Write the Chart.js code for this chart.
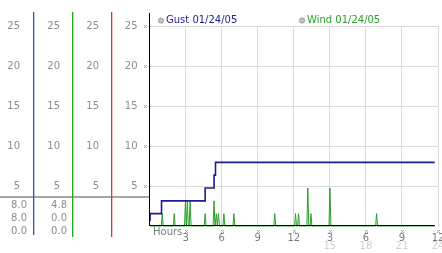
<!DOCTYPE html>
<html><head><meta charset="utf-8">
<script src="https://cdn.jsdelivr.net/npm/chart.js@4"></script>
<style>html,body{margin:0;padding:0;background:#fff}canvas{display:block}</style>
</head><body>
<canvas id="c" width="442" height="253"></canvas>
<script>
// ---- data ----
const yTickValues = [5, 10, 15, 20, 25];
const xTickValues = [3, 6, 9, 12, 15, 18, 21, 24];
const xTickLabels = ['3', '6', '9', '12', '3', '6', '9', '12'];
const x2TickValues = [15, 18, 21, 24];
const x2TickLabels = ['15', '18', '21', '24'];
const seriesNames = ['Gust 01/24/05', 'Wind 01/24/05'];
const xAxisName = 'Hours';

const gustHours  = [0.04, 0.05, 1.0, 4.63, 5.37, 5.49, 23.73];
const gustValues = [0.8,  1.6,  3.2, 4.8,  6.4,  8.0,  8.0];

const windHours = [0.05,
  0.98, 1.06, 1.14,
  1.98, 2.06, 2.14,
  2.91, 2.99, 3.07,
  3.08, 3.15, 3.23,
  3.30, 3.38, 3.46,
  4.55, 4.63, 4.71,
  5.29, 5.37, 5.45,
  5.49, 5.56, 5.64,
  5.67, 5.74, 5.82,
  6.11, 6.19, 6.27,
  6.94, 7.02, 7.10,
  10.34, 10.42, 10.50,
  12.07, 12.15, 12.23,
  12.32, 12.40, 12.48,
  13.09, 13.17, 13.25,
  13.35, 13.43, 13.51,
  14.93, 15.01, 15.09,
  18.81, 18.89, 18.97,
  23.73];
const windValues = [0,
  0, 1.6, 0,
  0, 1.6, 0,
  0, 3.2, 0,
  0, 3.2, 0,
  0, 3.2, 0,
  0, 1.6, 0,
  0, 3.2, 0,
  0, 1.6, 0,
  0, 1.6, 0,
  0, 1.6, 0,
  0, 1.6, 0,
  0, 1.6, 0,
  0, 1.6, 0,
  0, 1.6, 0,
  0, 4.8, 0,
  0, 1.6, 0,
  0, 4.8, 0,
  0, 1.6, 0,
  0];

const gustStats = ['8.0', '8.0', '0.0'];
const windStats = ['4.8', '0.0', '0.0'];

// ---- styles ----
const FONT = '10px "DejaVu Sans"';
const GUST = '#1c1c8c';
const WIND = '#2a9e2a';

function mark(ctx, cx, cy) {
  ctx.fillStyle = '#a4a4a4';
  const px = Math.round(cx), py = Math.round(cy);
  [[-1,-1],[1,-1],[0,0],[-1,1],[1,1]].forEach(([dx, dy]) => ctx.fillRect(px + dx, py + dy, 1, 1));
}

const decor = {
  id: 'decor',
  afterDraw(chart) {
    const ctx = chart.ctx, ys = chart.scales.y, xs = chart.scales.x, ca = chart.chartArea;
    ctx.save();
    ctx.font = FONT;
    // separator in left panel
    ctx.fillStyle = '#a6a6a6';
    ctx.fillRect(0, 196, 149, 2);
    // left panel tick columns
    ctx.fillStyle = '#8c8c8c';
    ctx.textAlign = 'right';
    ctx.textBaseline = 'middle';
    [20, 60, 99].forEach(cx => yTickValues.forEach(v => ctx.fillText(String(v), cx, ys.getPixelForValue(v))));
    // colored column lines
    [[33, '#2d55d8', 235], [72, '#22a622', 237], [111, '#d83434', 237]].forEach(([lx, c, yb]) => {
      ctx.fillStyle = c;
      ctx.fillRect(lx, 12, 1.3, yb - 12);
    });
    // stats
    ctx.fillStyle = '#8c8c8c';
    const rows = [205, 218.3, 231.7];
    gustStats.forEach((s, i) => ctx.fillText(s, 27, rows[i]));
    windStats.forEach((s, i) => ctx.fillText(s, 67, rows[i]));
    // main axes lines
    ctx.strokeStyle = '#000'; ctx.lineWidth = 1;
    ctx.beginPath(); ctx.moveTo(149.5, 13); ctx.lineTo(149.5, 226); ctx.stroke();
    ctx.beginPath(); ctx.moveTo(149, ca.bottom - 1); ctx.lineTo(xs.getPixelForValue(gustHours[gustHours.length - 1]), ca.bottom - 1); ctx.stroke();
    // tick markers
    yTickValues.forEach(v => mark(ctx, 145, ys.getPixelForValue(v)));
    xTickValues.forEach(v => mark(ctx, xs.getPixelForValue(v), 230.5));
    // secondary (24h) labels
    ctx.textAlign = 'center';
    ctx.fillStyle = '#d0d0d0';
    x2TickValues.forEach((v, i) => ctx.fillText(x2TickLabels[i], xs.getPixelForValue(v), 246));
    // axis name
    ctx.fillStyle = '#7a7a7a';
    ctx.textAlign = 'left';
    ctx.fillText(xAxisName, 153, 232);
    // legend
    [[161, GUST], [302, WIND]].forEach(([bx, c], i) => {
      ctx.beginPath(); ctx.arc(bx, 20.5, 2.6, 0, Math.PI * 2);
      ctx.fillStyle = '#c4c4c4'; ctx.fill();
      ctx.strokeStyle = '#8a8a8a'; ctx.lineWidth = 0.8; ctx.stroke();
      ctx.fillStyle = c;
      ctx.fillText(seriesNames[i], bx + 5, 20.5);
    });
    ctx.restore();
  }
};

Chart.defaults.font.family = '"DejaVu Sans"';
Chart.defaults.font.size = 10;

new Chart(document.getElementById('c'), {
  type: 'line',
  data: {
    datasets: [
      { label: seriesNames[0], data: gustHours.map((h, i) => ({ x: h, y: gustValues[i] })),
        borderColor: GUST, borderWidth: 1.6, stepped: true, pointRadius: 0, fill: false, order: 0,
        xAxisID: 'x', yAxisID: 'y' },
      { label: seriesNames[1], data: windHours.map((h, i) => ({ x: h, y: windValues[i] })),
        borderColor: WIND, borderWidth: 1, pointRadius: 0, fill: false, tension: 0, order: 1,
        xAxisID: 'x', yAxisID: 'y' }
    ]
  },
  options: {
    responsive: false,
    animation: false,
    devicePixelRatio: 1,
    layout: { padding: { left: 0, top: 26, right: 4, bottom: 0 } },
    plugins: { legend: { display: false }, tooltip: { enabled: false } },
    scales: {
      x: {
        type: 'linear', min: 0, max: 24, position: 'bottom',
        grid: { color: '#dadada', lineWidth: 1, drawTicks: false },
        border: { display: false },
        afterBuildTicks: s => { s.ticks = xTickValues.map(v => ({ value: v })); },
        afterFit: s => { s.height = 26.5; s.paddingLeft = 0; s.paddingRight = 0; },
        ticks: { autoSkip: false, maxRotation: 0, padding: 6, color: '#7a7a7a',
                 callback: (v, i) => xTickLabels[i] }
      },
      y: {
        type: 'linear', min: 0, max: 25, position: 'left',
        grid: { color: '#dadada', lineWidth: 1, drawTicks: false },
        border: { display: false },
        afterBuildTicks: s => { s.ticks = yTickValues.map(v => ({ value: v })); },
        afterFit: s => { s.width = 149.5; },
        ticks: { padding: 12, color: '#8c8c8c' }
      }
    }
  },
  plugins: [decor]
});
</script>
</body></html>
